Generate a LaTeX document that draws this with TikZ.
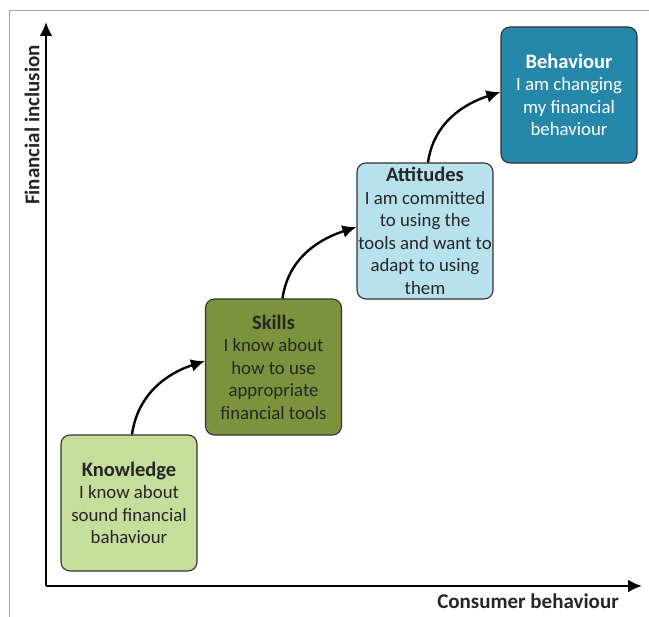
\documentclass[tikz,border=0pt]{standalone}
\usepackage{fontspec}
\setmainfont{Carlito}
\usetikzlibrary{arrows.meta}
\definecolor{knowc}{HTML}{C5DE9B}
\definecolor{skillc}{HTML}{7A943D}
\definecolor{attc}{HTML}{B7E1ED}
\definecolor{behc}{HTML}{2587A9}
\definecolor{txtc}{HTML}{262626}
\definecolor{edgec}{HTML}{333333}
\newcommand{\stitle}[1]{{\bfseries\fontsize{20.5bp}{22.5bp}\selectfont #1}}
\begin{document}
\begin{tikzpicture}[x=1bp,y=-1bp,
  stage/.style={draw=edgec, line width=1.1bp, rounded corners=9bp, minimum width=136bp, minimum height=136bp,
    inner sep=0pt, align=center, text=txtc, font=\fontsize{18.8bp}{22.5bp}\selectfont},
  stepArrow/.style={line width=2.4bp, -{Latex[length=14bp,width=13bp]}},
  axis/.style={line width=2.4bp, -{Latex[length=14bp,width=13bp]}},
  axlabel/.style={font=\bfseries\fontsize{21bp}{22bp}\selectfont, text=txtc, inner sep=0pt}]
\useasboundingbox (0,0) rectangle (649,617);
\fill[white] (0,0) rectangle (649,617);
\draw[gray!70, line width=1bp] (9,617) -- (9,11) -- (649,11);
\coordinate (origin) at (46,586);
\coordinate (ytip) at (46,22);
\coordinate (xtip) at (642,586);
\draw[axis] (origin) -- (ytip);
\draw[axis] (origin) -- (xtip);
\node[axlabel, rotate=90] (ylab) at (32,125) {Financial inclusion};
\node[axlabel] (xlab) at (528,601) {Consumer behaviour};
\node[stage, fill=knowc] (know) at (129,503) {\stitle{Knowledge}\\I know about\\sound financial\\bahaviour};
\node[stage, fill=skillc] (skill) at (273.5,367) {\stitle{Skills}\\I know about\\how to use\\appropriate\\financial tools};
\node[stage, fill=attc] (att) at (425,231) {\stitle{Attitudes}\\I am committed\\to using the\\tools and want to\\adapt to using\\them};
\node[stage, fill=behc, text=white] (beh) at (569,95) {\stitle{Behaviour}\\I am changing\\my financial\\behaviour};
\draw[stepArrow] ([xshift=3bp]know.north) to[out=82, in=198] ([yshift=6bp]skill.west);
\draw[stepArrow] ([xshift=9bp]skill.north) to[out=82, in=198] ([yshift=4bp]att.west);
\draw[stepArrow] ([xshift=3bp]att.north) to[out=82, in=198] ([yshift=3bp]beh.west);
\end{tikzpicture}
\end{document}
